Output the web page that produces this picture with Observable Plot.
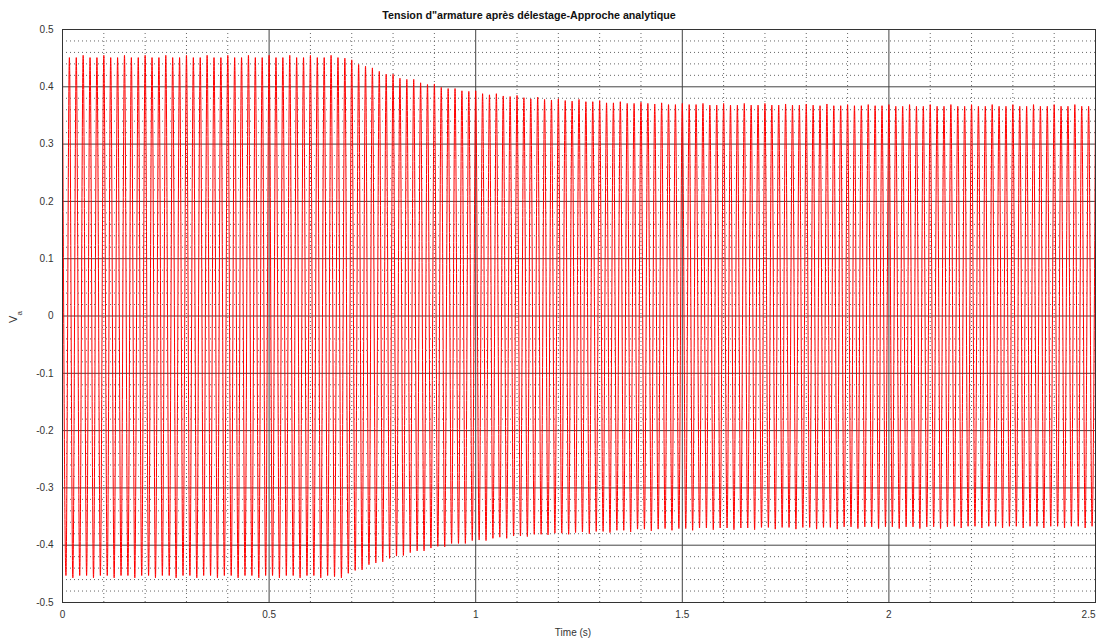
<!DOCTYPE html>
<html>
<head>
<meta charset="utf-8">
<script src="https://cdn.jsdelivr.net/npm/d3@7"></script>
<script src="https://cdn.jsdelivr.net/npm/@observablehq/plot@0.6"></script>
<style>
  body { margin: 0; background: #fff; font-family: "Liberation Sans", Arial, sans-serif; }
  #title {
    width: 1058px; height: 11px; padding-top: 9px; line-height: 12px;
    text-align: center; font-weight: bold; font-size: 10.7px; color: #111;
  }
</style>
</head>
<body>
<div id="title">Tension d"armature après délestage-Approche analytique</div>
<div id="chart"></div>
<script>
// Armature voltage, 60 Hz: one positive crest per period (t = k / 60 s)
const supplyHz = 60;

// Positive crests, k = 0 … 150
const crestsPos = [
  0.455, 0.451, 0.451, 0.455, 0.451, 0.451, 0.455, 0.451, 0.451, 0.455, 0.451, 0.451,
  0.455, 0.451, 0.451, 0.455, 0.451, 0.451, 0.455, 0.451, 0.451, 0.455, 0.451, 0.451,
  0.455, 0.451, 0.451, 0.455, 0.451, 0.451, 0.455, 0.451, 0.451, 0.455, 0.451, 0.451,
  0.455, 0.451, 0.451, 0.455, 0.451, 0.450,
  0.447, 0.439, 0.436, 0.433, 0.427, 0.422, 0.422, 0.415, 0.413, 0.413, 0.407, 0.404,
  0.405, 0.399, 0.397, 0.397, 0.393, 0.392, 0.393, 0.388, 0.386, 0.388, 0.384, 0.383,
  0.385, 0.381, 0.379, 0.382, 0.378, 0.377, 0.379, 0.376, 0.375, 0.378, 0.374, 0.374,
  0.376, 0.372, 0.372, 0.374, 0.371, 0.371, 0.373, 0.371, 0.370, 0.372, 0.369, 0.369,
  0.371, 0.369, 0.369, 0.371, 0.368, 0.368, 0.371, 0.368, 0.368, 0.371, 0.368, 0.368,
  0.371, 0.368, 0.368, 0.370, 0.368, 0.368, 0.370, 0.368, 0.367, 0.370, 0.367, 0.367,
  0.369, 0.367, 0.367, 0.369, 0.367, 0.367, 0.369, 0.366, 0.366, 0.369, 0.366, 0.366,
  0.369, 0.366, 0.366, 0.369, 0.366, 0.366, 0.369, 0.366, 0.366, 0.369, 0.366, 0.366,
  0.369, 0.366, 0.366, 0.369, 0.366, 0.366, 0.369, 0.366, 0.366, 0.369, 0.366, 0.366,
  0.369
];

// Negative crests, j = 0 … 149, half a period after each positive one
const crestsNeg = [
  -0.453, -0.457, -0.453, -0.453, -0.457, -0.453, -0.453, -0.457, -0.453, -0.453, -0.457, -0.453,
  -0.453, -0.457, -0.453, -0.453, -0.457, -0.453, -0.453, -0.457, -0.453, -0.453, -0.457, -0.453,
  -0.453, -0.457, -0.453, -0.453, -0.457, -0.453, -0.453, -0.457, -0.453, -0.453, -0.457, -0.453,
  -0.453, -0.457, -0.453,
  -0.455, -0.457, -0.449, -0.444, -0.443, -0.434, -0.431, -0.429, -0.423, -0.419, -0.418, -0.413,
  -0.410, -0.410, -0.405, -0.402, -0.403, -0.397, -0.397, -0.397, -0.392, -0.391, -0.392, -0.388,
  -0.386, -0.388, -0.384, -0.384, -0.385, -0.381, -0.381, -0.382, -0.379, -0.379, -0.381, -0.378,
  -0.377, -0.380, -0.376, -0.376, -0.378, -0.374, -0.374, -0.377, -0.372, -0.372, -0.375, -0.372,
  -0.371, -0.374, -0.371, -0.371, -0.374, -0.370, -0.370, -0.373, -0.370, -0.370, -0.373, -0.370,
  -0.370, -0.373, -0.369, -0.369, -0.372, -0.369, -0.369, -0.372, -0.369, -0.369, -0.372, -0.369,
  -0.369, -0.372, -0.368, -0.368, -0.371, -0.368, -0.368, -0.371, -0.368, -0.368, -0.371, -0.368,
  -0.368, -0.371, -0.368, -0.368, -0.371, -0.368, -0.367, -0.370, -0.367, -0.367, -0.370, -0.367,
  -0.367, -0.370, -0.367, -0.367, -0.370, -0.367, -0.367, -0.370, -0.367, -0.367, -0.370, -0.367,
  -0.367, -0.370, -0.367
];

const xTicks = [0, 0.5, 1, 1.5, 2, 2.5];
const xTickLabels = ["0", "0.5", "1", "1.5", "2", "2.5"];
const yTicks = [-0.5, -0.4, -0.3, -0.2, -0.1, 0, 0.1, 0.2, 0.3, 0.4, 0.5];
const yTickLabels = ["-0.5", "-0.4", "-0.3", "-0.2", "-0.1", "0", "0.1", "0.2", "0.3", "0.4", "0.5"];

// Alternate the crests in time order to trace the waveform
const wave = [];
crestsPos.forEach((v, k) => {
  wave.push({t: k / supplyHz, v});
  if (k < crestsNeg.length) wave.push({t: (k + 0.5) / supplyHz, v: crestsNeg[k]});
});

// Minor grid: every 0.1 s and every 0.02 V, skipping the major lines
const xMinor = d3.range(0, 26).filter(i => i % 5).map(i => i / 10);
const yMinor = d3.range(-25, 26).filter(i => i % 5).map(i => i / 50);

const xLabel = d => xTickLabels[xTicks.indexOf(d)];
const lastX = xTicks[xTicks.length - 1];

const chart = Plot.plot({
  width: 1100,
  height: 622,
  marginLeft: 62,
  marginRight: 5,
  marginTop: 9,
  marginBottom: 40,
  style: {fontFamily: "'Liberation Sans', Arial, sans-serif", fontSize: "10px", color: "#333", background: "#fff"},
  x: {domain: [0, 2.5]},
  y: {domain: [-0.5, 0.5]},
  marks: [
    Plot.ruleX(xMinor, {stroke: "#666", strokeDasharray: "1,3", strokeWidth: 1}),
    Plot.ruleY(yMinor, {stroke: "#666", strokeDasharray: "1,3", strokeWidth: 1}),
    Plot.ruleX(xTicks, {stroke: "#444", strokeWidth: 1}),
    Plot.ruleY(yTicks, {stroke: "#444", strokeWidth: 1}),
    Plot.line(wave, {x: "t", y: "v", stroke: "#ff0000", strokeWidth: 1, curve: "monotone-x"}),
    Plot.frame({stroke: "#333"}),
    // last time label sits flush with the right edge of the frame
    Plot.axisX(xTicks.slice(0, -1), {tickSize: 0, tickPadding: 8, label: null, tickFormat: xLabel}),
    Plot.axisX([lastX], {tickSize: 0, tickPadding: 8, label: null, tickFormat: xLabel, textAnchor: "end"}),
    Plot.axisY(yTicks, {tickSize: 0, tickPadding: 9, label: null,
      tickFormat: d => yTickLabels[yTicks.indexOf(d)]}),
    Plot.text(["Time (s)"], {frameAnchor: "bottom", dy: 26, dx: -6, lineAnchor: "top", fontSize: 10, fill: "#333"})
  ]
});

// Y axis title with subscript: V_a
const ylab = d3.select(chart).append("text")
  .attr("transform", "translate(17,297) rotate(-90)")
  .attr("text-anchor", "middle")
  .attr("fill", "#333")
  .attr("font-size", 11);
ylab.append("tspan").text("V");
ylab.append("tspan").attr("font-size", 8).attr("dy", 5).text("a");

document.getElementById("chart").append(chart);
</script>
</body>
</html>
